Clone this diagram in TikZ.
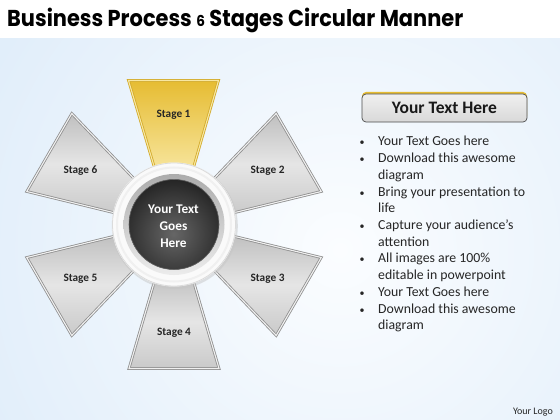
\documentclass[tikz,border=0pt]{standalone}
\usepackage{graphicx}
\usepackage{fontspec}
\setmainfont{Carlito}
\newfontfamily\titlefont{Poppins}
\definecolor{bgL}{HTML}{D2E5F7}
\definecolor{bgR}{HTML}{FBFDFF}
\definecolor{goldA}{HTML}{E6BC32}
\definecolor{goldB}{HTML}{F8E7A2}
\definecolor{goldD}{HTML}{D2AA2A}
\definecolor{petD}{HTML}{8E8E8E}
\tikzset{
  petal/.style={top color=gray!50, bottom color=gray!42, middle color=gray!20},
  petalline/.style={draw=petD, double=gray!12, double distance=1.1pt, line width=0.8pt, line join=miter},
  stagelbl/.style={font=\bfseries\fontsize{11.3}{11.3}\selectfont, text=black!85, inner sep=0},
  bul/.style={anchor=base, inner sep=0, font=\fontsize{10}{10}\selectfont, text=black!85},
  btxt/.style={anchor=base west, inner sep=0, font=\fontsize{13.8}{13.8}\selectfont, text=black!85},
}
\begin{document}
\begin{tikzpicture}[x=1pt,y=-1pt]
\useasboundingbox (0,0) rectangle (560,420);
% background
\begin{scope}
  \clip (0,38) rectangle (560,420);
  \fill[bgL] (0,38) rectangle (560,420);
  \shade[inner color=bgR, outer color=bgL] (340,250) circle (620);
\end{scope}
\fill[white] (0,0) rectangle (560,38);
% title
\node[anchor=base west, inner sep=0] (title) at (7,27) {\resizebox{456pt}{\height}{\titlefont\bfseries\fontsize{23}{23}\selectfont Business Process {\fontsize{15}{15}\selectfont 6} Stages Circular Manner}};
\coordinate (C) at (174,224.5);
% grey petals
\foreach \a/\n in {30/2, -30/3, -90/4, -150/5, 150/6} {
  \begin{scope}[shift={(C)}, rotate=\a]
    \shade[petal] (50,-17.5) -- (144,-45) -- (144,45) -- (50,17.5) -- cycle;
    \draw[petalline] (50,-17.5) -- (144,-45) -- (144,45) -- (50,17.5) -- cycle;
    \node[stagelbl] (s\n) at (108,0) {Stage \n};
  \end{scope}
}
% gold petal
\shade[top color=goldA, bottom color=goldB] (128.5,80.5) -- (218.5,80.5) -- (191.5,174.5) -- (156.5,174.5) -- cycle;
\draw[draw=goldD, double=goldB, double distance=1.1pt, line width=0.8pt] (128.5,80.5) -- (218.5,80.5) -- (191.5,174.5) -- (156.5,174.5) -- cycle;
\node[stagelbl] (s1) at (173.5,115) {Stage 1};
% center hub
\fill[gray!45, opacity=0.5] (174.8,226) circle (63);
\fill[white!96!gray] (C) circle (62);
\draw[gray!28, line width=0.8pt] (C) circle (61.5);
\draw[gray!12, line width=2pt] (C) circle (57);
\shade[top color=gray!65, bottom color=gray!15] (C) circle (50.5);
\begin{scope}
  \clip (C) circle (45);
  \fill[black!90] (C) circle (45);
  \shade[inner color=black!60, outer color=black!90] (173.5,234) circle (64);
\end{scope}
\draw[black!60, line width=0.6pt] (C) circle (45);
\node[align=center, text=white, font=\bfseries\fontsize{13.3}{17}\selectfont, inner sep=0] (hub) at (173.5,226) {Your Text\\Goes\\Here};
% button
\fill[goldA, rounded corners=4pt] (362,92) rectangle (527,120);
\shade[top color=gray!12, bottom color=gray!30, rounded corners=4pt] (362,94) rectangle (527,122);
\draw[gray!60!black, line width=0.7pt, rounded corners=4pt] (362,94) rectangle (527,122);
\node[font=\bfseries\fontsize{17.5}{17.5}\selectfont, text=black!90, inner sep=0] (btn) at (444.5,108) {Your Text Here};
% bullets
\node[bul] (d1) at (362,146) {\textbullet};
\node[btxt] (t1) at (378,146) {Your Text Goes here};
\node[bul] (d2) at (362,162.7) {\textbullet};
\node[btxt] (t2) at (378,162.7) {Download this awesome};
\node[btxt] (t2b) at (378,179.4) {diagram};
\node[bul] (d3) at (362,196.1) {\textbullet};
\node[btxt] (t3) at (378,196.1) {Bring your presentation to};
\node[btxt] (t3b) at (378,212.8) {life};
\node[bul] (d4) at (362,229.5) {\textbullet};
\node[btxt] (t4) at (378,229.5) {Capture your audience’s};
\node[btxt] (t4b) at (378,246.2) {attention};
\node[bul] (d5) at (362,262.9) {\textbullet};
\node[btxt] (t5) at (378,262.9) {All images are 100\%};
\node[btxt] (t5b) at (378,279.6) {editable in powerpoint};
\node[bul] (d6) at (362,296.3) {\textbullet};
\node[btxt] (t6) at (378,296.3) {Your Text Goes here};
\node[bul] (d7) at (362,313) {\textbullet};
\node[btxt] (t7) at (378,313) {Download this awesome};
\node[btxt] (t7b) at (378,329.7) {diagram};
% logo
\node[anchor=base east, inner sep=0, font=\fontsize{10}{10}\selectfont, text=black!85] (logo) at (553,414.5) {Your Logo};
\end{tikzpicture}
\end{document}
